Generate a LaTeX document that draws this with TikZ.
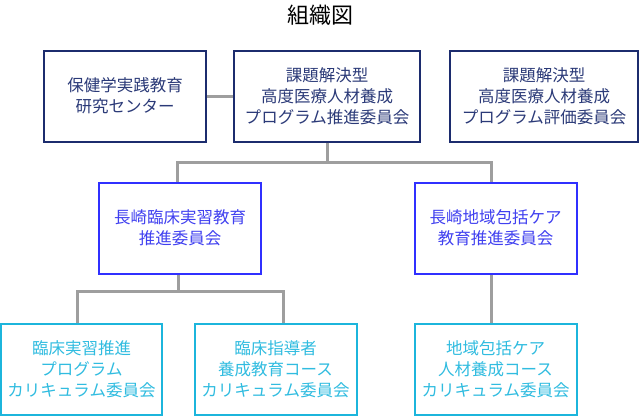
\documentclass[tikz,border=0pt]{standalone}
\usepackage{fontspec}
\usepackage{tikz}
\usetikzlibrary{positioning}
\newfontfamily\jpfont{Noto Sans CJK JP}

\definecolor{navyline}{HTML}{1C2C6E}
\definecolor{navytext}{HTML}{2B3A78}
\definecolor{blueline}{HTML}{3030FF}
\definecolor{bluetext}{HTML}{4040F0}
\definecolor{cyanline}{HTML}{1CB5DC}
\definecolor{cyantext}{HTML}{30BCE0}
\definecolor{linkgray}{HTML}{9E9E9E}

\begin{document}
\begin{tikzpicture}[
    x = 1pt,
    y = -1pt,
    line join = miter,
    ]

    \tikzstyle{every node}=[
    inner sep = 0pt,
    align = center,
    font = \jpfont\fontsize{16.5}{21}\selectfont,
    ]
    \tikzstyle{unit}=[
    draw,
    line width = 2pt,
    fill = white,
    minimum width = 162pt,
    minimum height = 91pt,
    ]
    \tikzstyle{top}=[unit, draw = navyline, text = navytext]
    \tikzstyle{mid}=[unit, draw = blueline, text = bluetext]
    \tikzstyle{low}=[unit, draw = cyanline, text = cyantext]
    \tikzstyle{link}=[draw = linkgray, line width = 3pt]

    \useasboundingbox (0,0) rectangle (640,416);

    \node (title) at (320,15) {\fontsize{22}{26}\selectfont 組織図};

    \node[top] (center) at (125,96) {保健学実践教育\\研究センター};
    \node[top, minimum width=186pt] (promo) at (327,96)
        {課題解決型\\高度医療人材養成\\プログラム推進委員会};
    \node[top, minimum width=188pt] (eval) at (544,96)
        {課題解決型\\高度医療人材養成\\プログラム評価委員会};

    \node[mid] (clinic) at (180,228) {長崎臨床実習教育\\推進委員会};
    \node[mid] (care) at (495.5,228) {長崎地域包括ケア\\教育推進委員会};

    \node[low, minimum width=161pt] (prog) at (81.5,369)
        {臨床実習推進\\プログラム\\カリキュラム委員会};
    \node[low] (guide) at (275.5,369) {臨床指導者\\養成教育コース\\カリキュラム委員会};
    \node[low] (human) at (495.5,369) {地域包括ケア\\人材養成コース\\カリキュラム委員会};

    \coordinate (j1) at (327,162);
    \coordinate (j2) at (178,291);

    \path[link] (center.east) -- (promo.west);
    \path[link] (promo.south) -- (j1);
    \path[link] (j1) -| ([xshift=-3pt]clinic.north);
    \path[link] (j1) -| ([xshift=-4.5pt]care.north);
    \path[link] ([xshift=-2pt]clinic.south) -- (j2);
    \path[link] (j2) -| ([xshift=-4.5pt]prog.north);
    \path[link] (j2) -| ([xshift=7.5pt]guide.north);
    \path[link] ([xshift=-4.5pt]care.south) -- ([xshift=-4.5pt]human.north);
\end{tikzpicture}
\end{document}
